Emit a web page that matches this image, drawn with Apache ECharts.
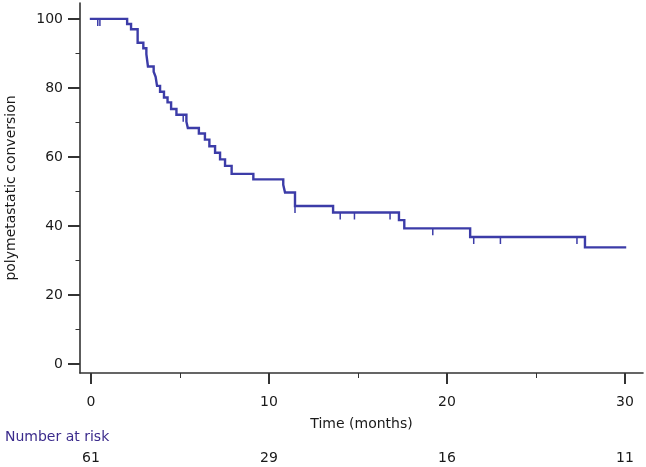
<!DOCTYPE html>
<html>
<head>
<meta charset="utf-8">
<script src="https://cdn.jsdelivr.net/npm/echarts@6/dist/echarts.min.js"></script>
<style>
html,body{margin:0;padding:0;background:#fff;}
#chart{width:646px;height:467px;}
</style>
</head>
<body>
<div id="chart"></div>
<script>
// Kaplan-Meier steps: [time (months), % without polymetastatic conversion]
const kmSteps = [
  [0, 100], [2.03, 98.5], [2.25, 97.0], [2.62, 93.1], [2.94, 91.5], [3.11, 89.8],
  [3.2, 86.2], [3.52, 84.7], [3.63, 83.2], [3.71, 80.6], [3.88, 78.9], [4.1, 77.2],
  [4.3, 75.8], [4.5, 73.9], [4.8, 72.2], [5.36, 70.2], [5.44, 68.4], [6.06, 66.8],
  [6.4, 65.0], [6.65, 63.1], [6.97, 61.2], [7.25, 59.3], [7.53, 57.4], [7.9, 55.1],
  [9.12, 53.5], [10.8, 51.9], [10.9, 49.7], [11.46, 45.8], [13.6, 43.9], [17.3, 41.7],
  [17.6, 39.3], [21.3, 36.8], [27.75, 33.8], [30.0, 33.8]
];
// Censored observations: [time, level]
const censored = [
  [0.38, 100], [0.5, 100], [5.18, 72.2], [11.46, 45.8], [14.0, 43.9], [14.8, 43.9],
  [16.8, 43.9], [19.2, 39.3], [21.5, 36.8], [23.0, 36.8], [27.3, 36.8]
];
const xMajorTicks = [0, 10, 20, 30];
const xMinorTicks = [5, 15, 25];
const yMajorTicks = [0, 20, 40, 60, 80, 100];
const yMinorTicks = [10, 30, 50, 70, 90];
const riskTimes = [0, 10, 20, 30];
const riskCounts = [61, 29, 16, 11];

const FONT = 'DejaVu Sans';
const FS = 14;
const LINE = '#3c3ca8';
const AX = '#333333';
const TXT = '#1a1a1a';
const xMin = -0.618, xMax = 31.01, yMin = -2.61, yMax = 104.6;

const chart = echarts.init(document.getElementById('chart'), null, {renderer: 'canvas'});
const baseX = {type: 'value', min: xMin, max: xMax, position: 'bottom', splitLine: {show: false}};
const baseY = {type: 'value', min: yMin, max: yMax, position: 'left', splitLine: {show: false}};

chart.setOption({
  animation: false,
  backgroundColor: '#fff',
  grid: {left: 80, right: 3, top: 3, bottom: 94, containLabel: false, outerBoundsMode: 'none'},
  xAxis: [
    Object.assign({}, baseX, {
      name: 'Time (months)', nameLocation: 'middle', nameGap: 44,
      nameTextStyle: {fontFamily: FONT, fontSize: FS, color: TXT},
      axisLine: {show: true, onZero: false, lineStyle: {color: AX, width: 1.6}},
      axisTick: {show: true, customValues: xMajorTicks, length: 11, lineStyle: {color: AX, width: 2}},
      axisLabel: {show: true, customValues: xMajorTicks, margin: 22, fontFamily: FONT, fontSize: FS, color: TXT}
    }),
    Object.assign({}, baseX, {
      axisLine: {show: false, onZero: false},
      axisTick: {show: true, customValues: xMinorTicks, length: 5, lineStyle: {color: AX, width: 1}},
      axisLabel: {show: false}
    }),
    Object.assign({}, baseX, {
      offset: 56,
      axisLine: {show: false, onZero: false},
      axisTick: {show: false},
      axisLabel: {show: true, customValues: riskTimes, margin: 22, fontFamily: FONT, fontSize: FS, color: TXT,
        formatter: function (v) { const i = riskTimes.indexOf(v); return i >= 0 ? String(riskCounts[i]) : ''; }}
    })
  ],
  yAxis: [
    Object.assign({}, baseY, {
      name: 'polymetastatic conversion', nameLocation: 'middle', nameGap: 62, nameRotate: 90,
      nameTextStyle: {fontFamily: FONT, fontSize: FS, color: TXT},
      axisLine: {show: true, onZero: false, lineStyle: {color: AX, width: 1.6}},
      axisTick: {show: true, customValues: yMajorTicks, length: 12, lineStyle: {color: AX, width: 2}},
      axisLabel: {show: true, customValues: yMajorTicks, margin: 17, fontFamily: FONT, fontSize: FS, color: TXT}
    }),
    Object.assign({}, baseY, {
      axisLine: {show: false, onZero: false},
      axisTick: {show: true, customValues: yMinorTicks, length: 4.5, lineStyle: {color: AX, width: 1}},
      axisLabel: {show: false}
    })
  ],
  graphic: [{
    type: 'text', left: 5, top: 430,
    style: {text: 'Number at risk', fontFamily: FONT, fontSize: FS, fill: '#3b2b8c'}
  }],
  series: [
    {
      type: 'line', xAxisIndex: 0, yAxisIndex: 0, step: 'end', data: kmSteps,
      showSymbol: false, symbol: 'none',
      lineStyle: {color: LINE, width: 2.4, join: 'miter', cap: 'square'}
    },
    {
      type: 'custom', xAxisIndex: 0, yAxisIndex: 0, data: censored,
      renderItem: function (params, api) {
        const p = api.coord([api.value(0), api.value(1)]);
        return {type: 'line', shape: {x1: p[0], y1: p[1], x2: p[0], y2: p[1] + 7},
          style: {stroke: LINE, lineWidth: 1.5}};
      }
    }
  ]
});
</script>
</body>
</html>
